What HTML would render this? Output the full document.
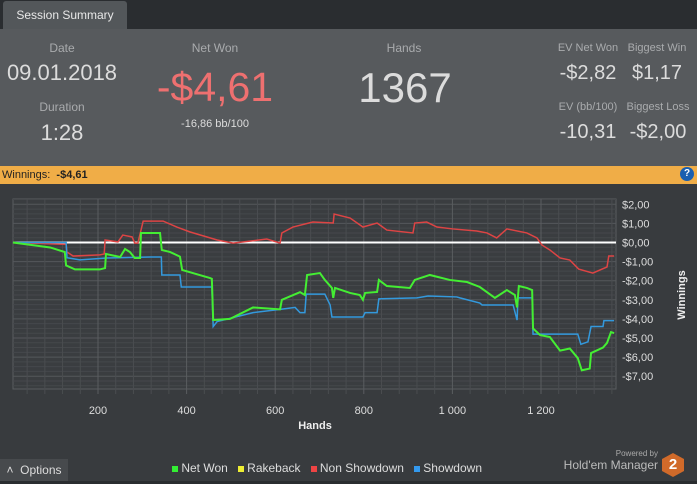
<!DOCTYPE html>
<html><head><meta charset="utf-8"><style>
body{margin:0;width:697px;height:484px;background:#383b3e;font-family:"Liberation Sans",sans-serif;overflow:hidden;position:relative}
.a{position:absolute}
.lbl{color:#a9abad;font-size:12px;text-align:center}
.sm{font-size:11px}
.val{color:#dcdcdc;text-align:center}
</style></head><body>
<div class="a" style="left:0;top:0;width:697px;height:29px;background:#2a2d30"></div>
<div class="a" style="left:3px;top:1px;width:124px;height:28px;background:#53575a;border-radius:3px 3px 0 0;color:#e8e8e8;font-size:12px;line-height:28px;text-align:center">Session Summary</div>
<div class="a" style="left:0;top:29px;width:697px;height:137px;background:#575a5d"></div>
<div class="a lbl" style="left:12px;top:41px;width:100px">Date</div>
<div class="a val" style="left:0;top:60px;width:124px;font-size:22px">09.01.2018</div>
<div class="a lbl" style="left:12px;top:100px;width:100px">Duration</div>
<div class="a val" style="left:12px;top:120px;width:100px;font-size:22px">1:28</div>
<div class="a lbl" style="left:165px;top:41px;width:100px">Net Won</div>
<div class="a" style="left:140px;top:64px;width:150px;text-align:center;font-size:41px;color:#ee7070">-$4,61</div>
<div class="a lbl" style="left:165px;top:118px;width:100px;color:#dcdcdc;font-size:11px">-16,86 bb/100</div>
<div class="a lbl" style="left:354px;top:41px;width:100px">Hands</div>
<div class="a val" style="left:340px;top:64px;width:130px;font-size:42px">1367</div>
<div class="a lbl sm" style="left:553px;top:42px;width:70px">EV Net Won</div>
<div class="a val" style="left:553px;top:62px;width:70px;font-size:20px">-$2,82</div>
<div class="a lbl sm" style="left:622px;top:42px;width:70px">Biggest Win</div>
<div class="a val" style="left:622px;top:62px;width:70px;font-size:20px">$1,17</div>
<div class="a lbl sm" style="left:553px;top:101px;width:70px">EV (bb/100)</div>
<div class="a val" style="left:553px;top:121px;width:70px;font-size:20px">-10,31</div>
<div class="a lbl sm" style="left:620px;top:101px;width:76px">Biggest Loss</div>
<div class="a val" style="left:620px;top:121px;width:76px;font-size:20px">-$2,00</div>
<div class="a" style="left:0;top:166px;width:697px;height:18px;background:#f0ad47;font-size:11px;line-height:18px;color:#222;padding-left:2px;box-sizing:border-box">Winnings: &nbsp;<b>-$4,61</b></div>
<div class="a" style="left:680px;top:167px;width:14px;height:14px;border-radius:50%;background:#1a5fb0;color:#fff;font-size:10px;font-weight:bold;text-align:center;line-height:14px">?</div>
<svg class="a" style="left:0;top:0" width="697" height="484" id="chart"></svg>
<div class="a" style="left:0;top:459px;width:68px;height:22px;background:#474a4d;color:#ddd;font-size:12px;line-height:22px;text-align:center">&#708;&nbsp; Options</div>
<div class="a" style="left:0;top:481px;width:697px;height:3px;background:#2a2d30"></div>
<div class="a" style="left:172px;top:461px;font-size:12px;color:#ddd;white-space:nowrap">
<span><span style="display:inline-block;width:6px;height:6px;background:#33ee33"></span> Net Won</span>&nbsp;&nbsp;
<span><span style="display:inline-block;width:6px;height:6px;background:#eeee33"></span> Rakeback</span>&nbsp;&nbsp;
<span><span style="display:inline-block;width:6px;height:6px;background:#ee4444"></span> Non Showdown</span>&nbsp;&nbsp;
<span><span style="display:inline-block;width:6px;height:6px;background:#3399ee"></span> Showdown</span></div>
<div class="a" style="left:560px;top:449px;width:98px;text-align:right;font-size:8px;color:#aaa">Powered by</div>
<div class="a" style="left:540px;top:458px;width:118px;text-align:right;font-size:12px;color:#bbb">Hold'em Manager</div>
<div class="a" style="left:662px;top:453px;width:22px;height:24px;background:#d06a2a;clip-path:polygon(50% 0,100% 25%,100% 75%,50% 100%,0 75%,0 25%);color:#fff;font-weight:bold;font-size:15px;text-align:center;line-height:24px">2</div>
<script>
const hands = {net:[8,92,125,128,148,204,216,218,250,261,272,283,295,297,340,344,363,385,390,453,457,460,498,550,611,615,656,667,672,701,712,728,731,735,769,791,798,803,830,834,852,904,915,949,994,1033,1062,1096,1123,1141,1146,1150,1168,1180,1182,1198,1220,1243,1265,1283,1292,1310,1313,1340,1349,1358,1365]};
const netWon = [0,-0.26,-0.5,-1.2,-1.41,-1.41,-1.34,-0.6,-0.76,-0.34,-0.5,-0.81,-0.81,0.5,0.5,-0.39,-0.5,-0.74,-1.44,-1.86,-1.9,-4.06,-4.0,-3.4,-3.5,-3.0,-2.6,-2.75,-1.7,-1.6,-1.96,-2.38,-2.9,-2.38,-2.64,-2.75,-3.0,-2.64,-2.59,-1.96,-2.28,-2.38,-1.96,-1.7,-1.96,-2.07,-2.33,-2.9,-2.49,-2.75,-3.4,-2.28,-2.38,-2.49,-4.5,-4.85,-4.95,-5.66,-5.55,-6.05,-6.69,-6.6,-5.79,-5.5,-5.26,-4.69,-4.74];
const sdHands = [8,128,130,159,220,318,343,344,385,388,457,460,469,550,611,645,656,667,670,712,724,728,798,803,830,834,920,945,1010,1017,1062,1067,1137,1146,1148,1180,1182,1283,1290,1306,1313,1340,1342,1365];
const showdown = [0,0,-0.8,-0.91,-0.81,-0.76,-0.76,-1.7,-1.7,-2.33,-2.33,-4.4,-4.14,-3.67,-3.5,-3.4,-3.67,-3.67,-2.7,-2.7,-3.27,-3.9,-3.9,-3.67,-3.67,-2.95,-2.9,-2.8,-2.85,-2.9,-3.17,-3.27,-3.27,-4.06,-2.9,-2.9,-4.8,-4.8,-5.33,-5.2,-4.4,-4.4,-4.09,-4.09];
const nsdHands = [8,128,130,144,204,214,216,245,256,277,283,290,302,347,378,408,469,505,581,611,615,640,685,731,733,769,798,830,852,911,915,942,965,1001,1055,1078,1100,1123,1168,1191,1202,1220,1243,1265,1285,1317,1349,1353,1365];
const nonShowdown = [0,-0.1,-0.5,-0.71,-0.65,-0.6,0.13,0.03,0.39,0.29,-0.03,-0.03,1.12,1.12,0.81,0.55,0.13,-0.03,0.18,-0.03,0.5,0.81,1.07,1.02,1.49,1.28,0.81,1.02,0.65,0.5,1.02,1.07,0.81,0.71,0.6,0.5,0.24,0.71,0.5,0.24,-0.13,-0.39,-0.81,-0.92,-1.39,-1.6,-1.28,-0.71,-0.71];
const xTicks = [200,400,600,800,1000,1200];
const xTickLabels = ["200","400","600","800","1 000","1 200"];
const yTicks = [2,1,0,-1,-2,-3,-4,-5,-6,-7];
const yTickLabels = ["$2,00","$1,00","$0,00","-$1,00","-$2,00","-$3,00","-$4,00","-$5,00","-$6,00","-$7,00"];

const L=13,R=616,T=199,B=389;
const xs=h=>9.4+h*0.443;
const ys=v=>242.5-v*19.1;
const svg=document.getElementById('chart');
const NS='http://www.w3.org/2000/svg';
function mk(tag,attrs){const e=document.createElementNS(NS,tag);for(const k in attrs)e.setAttribute(k,attrs[k]);svg.appendChild(e);return e;}
let bg=mk('rect',{x:L,y:T,width:R-L,height:B-T,fill:'#3a3d40',stroke:'#5a5d60'});


for(let v=-7.5;v<=2.3;v+=0.25){const l=mk('line',{x1:L,x2:R,y1:ys(v),y2:ys(v),stroke:Math.abs(v-Math.round(v))<0.01?'#55585b':'#45484b','stroke-width':1});

}
for(let h=40;h<1370;h+=40){const x=xs(h);const l=mk('line',{x1:x,x2:x,y1:T,y2:B+5,stroke:h%200===0?'#5a5d60':'#4a4d50'});

}
xTicks.forEach((h,i)=>{const t=mk('text',{x:xs(h),y:414,fill:'#ddd','font-size':11,'text-anchor':'middle'});t.textContent=xTickLabels[i];

});
yTicks.forEach((v,i)=>{const t=mk('text',{x:622,y:ys(v)+4,fill:'#ddd','font-size':11});t.textContent=yTickLabels[i];

});
const xt=mk('text',{x:315,y:429,fill:'#eee','font-size':11,'font-weight':'bold','text-anchor':'middle'});xt.textContent='Hands';


const yt=mk('text',{x:0,y:0,fill:'#eee','font-size':11,'font-weight':'bold','text-anchor':'middle',transform:'translate(685,295) rotate(-90)'});yt.textContent='Winnings';


const z=mk('line',{x1:L,x2:R,y1:ys(0),y2:ys(0),stroke:'#fff','stroke-width':2});


function line(hs,vs,col,name){const p=mk('polyline',{points:hs.map((h,i)=>xs(h)+','+ys(vs[i])).join(' '),fill:'none',stroke:col,'stroke-width':name==='net-won-line'?2:1.5});

}
line(nsdHands,nonShowdown,'#dd4444','non-showdown-line');
line(sdHands,showdown,'#3399dd','showdown-line');
line(hands.net,netWon,'#44ee33','net-won-line');
</script>
</body></html>
